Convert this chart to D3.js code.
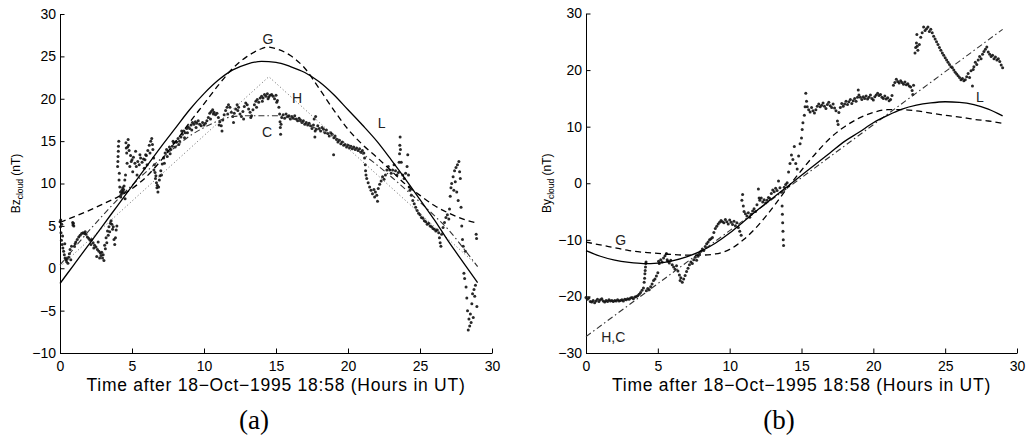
<!DOCTYPE html>
<html>
<head>
<meta charset="utf-8">
<script src="https://cdn.jsdelivr.net/npm/d3@7/dist/d3.min.js"></script>
<style>
  body { margin: 0; background: #fff; }
  svg { display: block; font-family: "Liberation Sans", Arial, sans-serif; }
  .domain { stroke: #000; }
  .tick line { stroke: #000; }
</style>
</head>
<body>
<svg id="fig" width="1028" height="438"></svg>
<script>
//	tick values
var hourTicks = [0, 5, 10, 15, 20, 25, 30];
var bzTicks = [-10, -5, 0, 5, 10, 15, 20, 25, 30];
var byTicks = [-30, -20, -10, 0, 10, 20, 30];

//	observed Bz (hours, nT)
var bzObs = [[0,5.5],[0.03,4.9],[0.05,5.7],[0.07,4.2],[0.1,3.3],[0.12,5.2],[0.15,2.8],[0.18,3.8],[0.2,2.4],[0.25,2.0],[0.3,1.6],[0.33,2.9],[0.35,1.2],[0.4,1.0],[0.45,0.8],[0.5,1.1],[0.55,0.6],[0.6,1.3],[0.65,1.7],[0.7,2.2],[0.75,1.0],[0.8,2.6],[0.88,5.4],[0.9,5.1],[0.93,5.3],[0.96,5.0],[1.0,2.6],[1.05,2.9],[1.1,3.1],[1.2,3.4],[1.3,3.7],[1.4,3.9],[1.5,4.1],[1.6,4.2],[1.7,4.1],[1.75,4.3],[1.8,4.0],[1.9,3.7],[2.0,3.5],[2.1,3.3],[2.15,2.8],[2.2,3.4],[2.3,3.0],[2.35,2.4],[2.4,2.7],[2.5,2.5],[2.55,1.4],[2.6,2.2],[2.65,3.1],[2.7,2.0],[2.75,1.2],[2.8,1.8],[2.85,1.5],[2.9,1.9],[2.95,1.2],[3.0,1.6],[3.05,0.9],[3.1,2.7],[3.15,2.3],[3.2,3.6],[3.25,3.0],[3.3,4.4],[3.35,3.9],[3.4,4.9],[3.45,4.3],[3.5,5.3],[3.55,5.6],[3.6,5.2],[3.65,4.6],[3.7,4.9],[3.75,3.4],[3.8,2.8],[3.85,3.6],[3.9,4.5],[3.95,5.0],
  [4.0,12.0],[4.02,12.6],[4.03,13.2],[4.05,13.8],[4.06,14.4],[4.08,15.0],[4.1,10.4],[4.12,11.2],[4.15,9.6],[4.2,9.0],[4.22,8.4],[4.25,8.7],[4.3,9.2],[4.33,8.9],[4.35,9.5],[4.4,9.0],[4.42,9.3],[4.45,9.7],[4.5,10.4],[4.52,8.2],[4.55,11.0],[4.58,14.8],[4.6,14.2],[4.63,13.6],[4.66,12.4],[4.7,14.3],[4.73,15.2],[4.76,14.5],[4.8,13.9],[4.85,12.0],[4.9,13.3],[4.95,12.6],[5.0,12.8],[5.05,11.4],[5.1,13.1],[5.2,12.4],[5.25,13.8],[5.3,12.0],[5.35,11.0],[5.4,12.6],[5.5,12.2],[5.55,13.4],[5.6,13.0],[5.7,12.5],[5.8,12.9],[5.85,11.8],[5.9,12.8],[5.95,13.4],[6.0,13.3],[6.05,12.2],[6.1,13.9],[6.2,14.5],[6.25,13.6],[6.3,15.0],[6.37,15.3],[6.42,14.6],[6.45,14.0],[6.5,13.0],[6.52,11.6],[6.55,12.2],[6.6,11.3],[6.63,10.6],[6.66,10.9],[6.7,10.1],[6.73,9.5],[6.76,9.8],[6.8,9.0],[6.85,9.6],[6.9,10.4],[6.95,10.9],[7.0,11.5],[7.05,11.0],[7.1,12.3],[7.2,13.0],[7.25,12.4],[7.3,13.6],[7.4,14.0],[7.45,13.2],[7.5,13.8],[7.6,14.3],[7.65,13.5],[7.7,14.0],[7.8,14.4],[7.85,15.0],[7.9,14.8],[8.0,14.3],[8.05,14.9],[8.1,14.9],[8.2,15.3],[8.25,14.6],[8.3,15.0],[8.4,15.5],[8.45,16.2],[8.5,15.8],[8.6,16.2],[8.65,15.4],[8.7,16.0],[8.8,16.5],[8.85,16.0],[8.9,16.7],[9.0,16.5],[9.1,16.9],[9.15,16.3],[9.2,17.2],[9.3,17.0],[9.4,17.3],[9.45,16.6],[9.5,17.1],[9.6,17.4],[9.7,17.0],[9.8,16.8],[9.9,17.2],
  [10.0,16.9],[10.1,17.1],[10.2,17.4],[10.3,17.8],[10.4,18.3],[10.45,17.6],[10.5,18.5],[10.6,18.7],[10.65,18.2],[10.7,18.4],[10.8,18.1],[10.9,18.3],[11.0,17.8],[11.05,16.9],[11.1,17.3],[11.2,16.8],[11.25,16.2],[11.3,17.5],[11.4,18.1],[11.5,18.6],[11.6,19.0],[11.65,18.2],[11.7,19.3],[11.8,19.0],[11.9,18.4],[12.0,17.9],[12.05,17.2],[12.1,18.3],[12.2,18.8],[12.3,19.3],[12.35,18.6],[12.4,19.0],[12.5,18.2],[12.6,17.9],[12.7,18.5],[12.75,17.6],[12.8,19.1],[12.9,19.5],[13.0,19.3],[13.1,18.8],[13.2,18.4],[13.25,17.8],[13.3,18.0],[13.4,18.7],[13.5,19.3],[13.6,19.7],[13.65,19.0],[13.7,19.9],[13.8,19.6],[13.9,20.1],[14.0,20.3],[14.05,19.7],[14.1,20.1],[14.2,20.5],[14.3,20.3],[14.4,20.6],[14.45,20.0],[14.5,20.2],[14.6,20.4],[14.7,20.5],[14.8,20.3],[14.9,20.0],[15.0,20.4],[15.05,19.6],[15.1,19.8],[15.2,19.0],[15.25,18.2],[15.28,17.3],[15.3,16.6],[15.32,15.8],[15.35,17.0],[15.4,17.8],[15.5,18.1],[15.6,17.7],[15.7,18.2],[15.8,17.9],[15.9,18.0],[16.0,17.6],[16.1,17.9],[16.2,17.7],[16.3,18.0],[16.4,17.6],[16.5,17.4],[16.6,17.7],[16.7,17.5],[16.8,17.2],[16.9,17.4],[17.0,17.0],[17.1,17.2],[17.2,16.9],[17.3,17.1],[17.4,16.8],[17.5,16.5],[17.6,16.9],[17.65,17.6],[17.7,15.5],[17.72,16.2],[17.75,17.9],[17.8,16.4],[17.9,16.8],[18.0,16.5],[18.1,16.2],[18.2,16.6],[18.3,16.4],[18.4,16.0],[18.5,16.3],[18.6,15.9],[18.7,15.6],[18.8,16.0],[18.9,15.8],[19.0,13.4],[19.02,15.4],[19.1,15.6],[19.2,15.2],[19.3,14.9],[19.4,15.1],[19.5,14.7],[19.6,14.9],[19.7,14.5],[19.8,14.6],[19.9,14.3],
  [20.0,14.5],[20.1,14.2],[20.2,14.4],[20.3,14.1],[20.4,14.3],[20.5,14.0],[20.6,14.2],[20.7,13.9],[20.8,14.1],[20.9,13.7],[21.0,13.9],[21.1,13.6],[21.15,13.0],[21.2,12.2],[21.22,11.5],[21.25,11.0],[21.3,10.6],[21.4,10.1],[21.5,9.6],[21.6,9.2],[21.7,8.8],[21.8,9.3],[21.85,8.4],[21.9,9.0],[22.0,8.6],[22.05,7.9],[22.1,9.4],[22.2,9.9],[22.3,10.3],[22.4,10.8],[22.5,10.5],[22.6,11.0],[22.7,11.6],[22.8,12.0],[22.9,11.6],[23.0,11.2],[23.1,11.6],[23.2,12.2],[23.3,11.5],[23.4,11.0],[23.5,11.3],[23.55,12.5],[23.58,13.5],[23.6,14.5],[23.62,15.5],[23.64,14.0],[23.7,12.5],[23.8,11.0],[23.9,10.6],[24.0,11.2],[24.1,12.0],[24.15,13.4],[24.2,11.0],[24.25,9.6],[24.3,9.2],[24.4,8.6],[24.5,8.0],[24.6,7.6],[24.7,7.2],[24.8,6.8],[24.9,6.5],[25.0,6.3],[25.1,6.0],[25.2,5.9],[25.3,5.6],[25.4,5.5],[25.5,5.2],[25.6,5.3],[25.7,5.0],[25.8,4.9],[25.9,4.7],[26.0,4.6],[26.1,4.4],[26.2,4.5],[26.3,4.2],[26.35,3.6],[26.4,3.0],[26.45,2.6],[26.5,4.0],[26.6,4.8],[26.7,5.4],[26.8,6.0],[26.9,6.3],[27.0,5.8],[27.05,7.0],[27.1,8.5],[27.15,9.5],[27.2,10.0],[27.3,10.8],[27.35,9.2],[27.4,11.5],[27.45,10.2],[27.5,11.9],[27.55,9.0],[27.6,12.2],[27.65,8.0],[27.7,12.6],[27.75,11.4],[27.8,10.6],[27.85,7.2],[27.9,5.0],[27.95,3.4],[28.0,2.6],[28.05,-0.6],[28.1,-1.2],[28.15,2.0],[28.2,-2.2],[28.25,-3.5],[28.3,-5.0],[28.35,-7.3],[28.4,-6.0],[28.45,-6.8],[28.5,-5.4],[28.55,-6.4],[28.6,-4.2],[28.65,-3.0],[28.7,-5.8],[28.75,-2.5],[28.8,-3.3],[28.85,-2.0],[28.9,4.0],[28.93,3.5],[28.95,-4.5]];

//	model fits for Bz: L (solid), G (dashed), H (dotted), C (dash-dot)
var bzFitL = [[0,-1.8],[1,0.5],[2,2.8],[3,5.1],[4,7.4],[5,9.7],[6,12.0],[7,14.3],[8,16.5],[9,18.7],[10,20.6],[11,22.2],[12,23.4],[13,24.1],[14,24.4],[15,24.3],[16,23.8],[17,23.1],[18,22.0],[19,20.5],[20,18.7],[21,16.9],[22,15.0],[23,12.8],[24,10.5],[25,8.1],[26,5.7],[27,3.1],[28,0.7],[29,-1.7]];
var bzFitG = [[0,5.4],[1,6.1],[2,6.8],[3,7.6],[4,8.4],[5,9.4],[6,10.8],[7,12.7],[8,14.9],[9,17.2],[10,19.4],[11,21.6],[12,23.6],[13,25.0],[14,25.9],[14.4,26.1],[15,25.9],[16,25.1],[17,23.6],[18,21.2],[19,18.7],[20,16.4],[21,14.6],[22,13.1],[23,11.5],[24,9.9],[25,8.6],[26,7.4],[27,6.5],[28,5.8],[29,5.3]];
var bzFitH = [[0,0.2],[14.5,22.6],[29,0.3]];
var bzFitC = [[0,0.4],[1,2.4],[2,4.4],[3,6.3],[4,8.1],[5,9.8],[6,11.4],[7,12.9],[8,14.3],[9,15.6],[10,16.6],[11,17.4],[12,17.9],[13,18.0],[14,18.0],[15,18.0],[16,17.7],[17,17.1],[18,16.3],[19,15.5],[20,14.6],[21,13.5],[22,12.2],[23,10.8],[24,9.3],[25,7.8],[26,6.2],[27,4.5],[28,2.4],[29,0.2]];
var bzLabels = [["G",14.44,27.05],["H",16.46,20.1],["C",14.38,16.1],["L",22.34,17.1]];

//	observed By (hours, nT)
var byObs = [[0,-20.2],[0.1,-20.5],[0.2,-20.3],[0.3,-20.9],[0.4,-21.0],[0.5,-20.7],[0.6,-21.1],[0.7,-20.8],[0.8,-20.5],[0.9,-20.9],[1.0,-20.6],[1.1,-20.4],[1.2,-20.8],[1.3,-21.0],[1.4,-20.7],[1.5,-20.9],[1.6,-20.6],[1.7,-20.8],[1.8,-20.7],[1.9,-20.9],[2.0,-20.7],[2.1,-20.8],[2.2,-20.6],[2.3,-20.8],[2.4,-20.7],[2.5,-20.6],[2.6,-20.8],[2.7,-20.5],[2.8,-20.6],[2.9,-20.4],[3.0,-20.5],[3.1,-20.3],[3.2,-20.2],[3.3,-20.4],[3.4,-20.1],[3.5,-20.0],[3.6,-19.9],[3.7,-19.6],[3.8,-19.3],[3.9,-18.9],[4.0,-18.5],
  [4.05,-17.5],[4.08,-16.8],[4.1,-16.0],[4.12,-15.4],[4.14,-14.8],[4.16,-14.2],[4.18,-13.9],[4.2,-19.0],[4.3,-18.6],[4.4,-18.8],[4.5,-18.3],[4.6,-17.8],[4.7,-17.2],[4.8,-16.9],[4.9,-16.4],[5.0,-15.8],[5.05,-13.8],[5.1,-14.2],[5.2,-13.5],[5.3,-13.9],[5.4,-13.2],[5.5,-12.8],[5.6,-12.4],[5.65,-13.5],[5.7,-13.8],[5.8,-14.1],[5.9,-13.6],[6.0,-14.4],[6.1,-14.8],[6.2,-15.2],[6.3,-14.6],[6.4,-15.5],[6.5,-16.2],[6.55,-17.2],[6.6,-16.7],[6.7,-17.5],[6.8,-16.9],[6.9,-16.3],[7.0,-15.6],[7.1,-15.0],[7.2,-14.4],[7.3,-13.9],[7.4,-14.2],[7.5,-13.5],[7.6,-13.1],[7.7,-13.6],[7.8,-12.9],[7.9,-12.4],[8.0,-12.0],[8.1,-11.6],[8.2,-11.9],[8.3,-11.2],[8.4,-10.7],[8.5,-10.4],[8.6,-10.0],[8.7,-9.8],[8.8,-9.6],[8.9,-8.7],[9.0,-8.0],[9.1,-7.6],[9.2,-7.2],[9.3,-6.9],[9.4,-6.6],[9.5,-6.8],[9.6,-7.0],[9.7,-6.4],[9.8,-6.8],[9.9,-7.2],
  [10.0,-6.5],[10.1,-6.9],[10.2,-7.3],[10.3,-6.7],[10.4,-7.5],[10.5,-7.0],[10.6,-7.8],[10.7,-8.5],[10.8,-9.2],[10.85,-3.0],[10.9,-2.0],[10.95,-4.0],[11.0,-5.0],[11.1,-5.4],[11.2,-5.8],[11.3,-5.2],[11.4,-6.0],[11.5,-5.5],[11.6,-4.9],[11.7,-4.5],[11.8,-5.0],[11.9,-3.8],[12.0,-1.0],[12.05,-2.6],[12.1,-3.0],[12.2,-2.6],[12.3,-3.3],[12.4,-2.9],[12.5,-3.5],[12.6,-3.0],[12.7,-2.5],[12.8,-2.7],[12.9,-1.8],[13.0,-1.2],[13.1,-1.5],[13.2,-0.9],[13.3,-1.3],[13.4,0.4],[13.5,-0.8],[13.6,-1.6],[13.65,-4.0],[13.67,-5.5],[13.69,-7.0],[13.71,-8.5],[13.73,-10.0],[13.75,-11.0],[13.8,-0.7],[13.9,-0.2],[14.0,0.1],[14.1,2.0],[14.2,3.5],[14.3,5.0],[14.4,4.2],[14.5,6.5],[14.6,3.5],[14.7,2.5],[14.8,4.8],[14.9,7.0],[15.0,8.0],[15.05,9.5],[15.1,10.7],[15.2,12.0],[15.25,13.5],[15.3,15.9],[15.35,14.5],[15.4,13.5],[15.5,13.0],[15.6,12.6],[15.7,13.4],[15.8,12.8],[15.9,12.4],[16.0,13.0],[16.1,13.6],[16.2,14.0],[16.3,13.5],[16.4,13.8],[16.5,14.2],[16.6,13.6],[16.7,13.2],[16.8,13.9],[16.9,14.3],[17.0,13.7],[17.1,13.4],[17.2,14.0],[17.3,13.3],[17.4,12.8],[17.5,11.0],[17.55,10.4],[17.6,12.5],[17.7,13.4],[17.8,14.1],[17.9,13.6],[18.0,14.0],[18.1,14.5],[18.2,13.9],[18.3,14.4],[18.4,14.8],[18.5,14.1],[18.6,14.6],[18.7,15.0],[18.8,14.5],[18.9,15.2],[18.95,16.5],[19.0,15.6],[19.1,15.2],[19.2,14.8],[19.3,15.3],[19.4,15.0],[19.5,15.4],[19.6,14.9],[19.7,15.2],[19.8,15.6],[19.9,15.0],
  [20.0,14.7],[20.1,15.3],[20.2,15.6],[20.3,15.9],[20.4,15.5],[20.5,15.7],[20.6,15.2],[20.7,15.0],[20.8,15.4],[20.9,14.9],[21.0,15.1],[21.1,14.6],[21.2,14.8],[21.3,15.5],[21.4,17.3],[21.5,17.8],[21.6,18.4],[21.7,18.0],[21.8,17.7],[21.9,18.1],[22.0,17.8],[22.1,17.5],[22.2,17.9],[22.3,17.4],[22.4,17.6],[22.5,17.2],[22.6,17.0],[22.7,16.4],[22.75,15.7],[22.8,17.3],[22.9,23.0],[22.95,24.0],[23.0,24.8],[23.03,26.3],[23.05,24.2],[23.1,23.5],[23.2,24.5],[23.3,25.8],[23.4,26.6],[23.5,27.6],[23.6,27.0],[23.7,27.3],[23.8,27.6],[23.9,26.8],[24.0,27.2],[24.1,26.6],[24.2,26.0],[24.3,25.5],[24.4,25.0],[24.5,24.5],[24.6,24.0],[24.7,23.5],[24.8,23.0],[24.9,22.6],[25.0,22.2],[25.1,21.8],[25.2,21.4],[25.3,21.0],[25.4,20.6],[25.5,20.4],[25.6,20.0],[25.7,19.6],[25.8,19.3],[25.9,19.0],[26.0,18.7],[26.1,18.3],[26.2,18.5],[26.3,18.1],[26.4,18.3],[26.5,18.8],[26.6,19.4],[26.7,18.7],[26.8,19.9],[26.9,17.2],[26.95,20.1],[27.0,20.6],[27.1,21.4],[27.2,21.0],[27.3,21.8],[27.4,22.4],[27.5,22.0],[27.6,22.8],[27.7,23.3],[27.8,23.7],[27.9,24.1],[28.0,23.2],[28.1,22.8],[28.2,22.4],[28.3,22.6],[28.4,22.0],[28.5,22.3],[28.6,21.8],[28.7,22.0],[28.8,21.5],[28.9,20.9],[29.0,20.4]];

//	model fits for By: L (solid), G (dashed), H and C coincide (dash-dot)
var byFitL = [[0,-11.9],[1,-12.9],[2,-13.6],[3,-14.0],[4,-14.2],[5,-14.1],[6,-13.7],[7,-13.0],[8,-12.0],[9,-10.6],[10,-8.8],[11,-6.7],[12,-4.6],[13,-2.6],[14,-0.6],[15,1.4],[16,3.4],[17,5.4],[18,7.4],[19,9.0],[20,10.7],[21,12.0],[22,13.1],[23,13.8],[24,14.2],[25,14.4],[26,14.3],[27,13.9],[28,13.1],[29,11.9]];
var byFitG = [[0,-10.4],[1,-10.9],[2,-11.4],[3,-11.9],[4,-12.2],[5,-12.4],[6,-12.6],[7,-12.7],[8,-12.7],[9,-12.5],[10,-11.7],[11,-9.9],[12,-7.4],[13,-4.3],[14,-0.9],[15,2.3],[16,5.3],[17,8.0],[18,10.0],[19,11.5],[20,12.5],[21,13.0],[22,13.0],[23,12.8],[24,12.4],[25,12.0],[26,11.7],[27,11.3],[28,11.0],[29,10.6]];
var byFitHC = [[0,-27.1],[29,27.2]];
var byLabels = [["G",2.41,-10.1],["H,C",1.9,-27.2],["L",27.42,15.2]];

var svg = d3.select("#fig");

//	line styles per fit
var styles = {
	solid:   {stroke: "#000", width: 1.3, dash: null},
	dashed:  {stroke: "#000", width: 1.3, dash: "6,4"},
	dotted:  {stroke: "#666", width: 1, dash: "1,2.5"},
	dashdot: {stroke: "#333", width: 1.1, dash: "6,3,1.5,3"}
};

function panel(cfg) {
	var x = d3.scaleLinear().domain([0, 30]).range(cfg.xRange),
	    y = d3.scaleLinear().domain(cfg.yDomain).range(cfg.yRange);
	var g = svg.append("g");

	// axes, matlab style: ticks pointing inward, no box
	g.append("g")
		.attr("transform", "translate(0," + cfg.yRange[0] + ")")
		.call(d3.axisBottom(x).tickValues(hourTicks).tickSizeInner(-4.5).tickSizeOuter(0).tickPadding(8.3))
		.call(styleAxis);
	g.append("g")
		.attr("transform", "translate(" + cfg.xRange[0] + ",0)")
		.call(d3.axisLeft(y).tickValues(cfg.yTicks).tickSizeInner(-4.5).tickSizeOuter(0).tickPadding(4)
			.tickFormat(function(d) { return d < 0 ? "\u2212" + Math.abs(d) : d; }))
		.call(styleAxis);

	// observations as small dark dots
	g.append("g").selectAll("circle")
		.data(cfg.obs)
		.enter().append("circle")
		.attr("cx", function(d) { return x(d[0]); })
		.attr("cy", function(d) { return y(d[1]); })
		.attr("r", 1.5)
		.attr("fill", "#111")
		.attr("fill-opacity", 0.9);

	// fitted curves
	cfg.fits.forEach(function(f) {
		var st = styles[f.style];
		var line = d3.line()
			.x(function(d) { return x(d[0]); })
			.y(function(d) { return y(d[1]); })
			.curve(f.data.length > 2 && f.style != "dotted" ? d3.curveMonotoneX : d3.curveLinear);
		g.append("path")
			.datum(f.data)
			.attr("d", line)
			.attr("fill", "none")
			.attr("stroke", st.stroke)
			.attr("stroke-width", st.width)
			.attr("stroke-dasharray", st.dash);
	});

	// curve labels
	g.append("g").selectAll("text")
		.data(cfg.labels)
		.enter().append("text")
		.attr("x", function(d) { return x(d[1]); })
		.attr("y", function(d) { return y(d[2]); })
		.attr("dy", "0.36em")
		.attr("text-anchor", "middle")
		.attr("font-size", 14)
		.attr("fill", "#222")
		.text(function(d) { return d[0]; });

	// x label (kept a touch lower so it clears the tick labels)
	g.append("text")
		.attr("x", (cfg.xRange[0] + cfg.xRange[1]) / 2)
		.attr("y", 391)
		.attr("text-anchor", "middle")
		.attr("font-size", 17.5)
		.attr("letter-spacing", 0.75)
		.text("Time after 18\u2212Oct\u22121995 18:58 (Hours in UT)");

	// y label with subscript
	var yl = g.append("text")
		.attr("transform", "translate(" + cfg.yLabelX + "," + ((cfg.yRange[0] + cfg.yRange[1]) / 2) + ") rotate(-90)")
		.attr("text-anchor", "middle")
		.attr("font-size", 12);
	yl.append("tspan").text(cfg.yName);
	yl.append("tspan").attr("font-size", 8.5).attr("dy", 3).text("cloud");
	yl.append("tspan").attr("dy", -3).text(" (nT)");

	// panel letter
	svg.append("text")
		.attr("x", cfg.letterX)
		.attr("y", 429)
		.attr("text-anchor", "middle")
		.attr("font-family", "'Liberation Serif', serif")
		.attr("font-size", 27)
		.text(cfg.letter);
}

function styleAxis(sel) {
	sel.selectAll("text").attr("font-size", 14).attr("fill", "#000")
		.attr("font-family", "'Liberation Sans', Arial, sans-serif");
	sel.select(".domain").attr("stroke-width", 1);
}

panel({
	xRange: [60, 492], yDomain: [-10, 30], yRange: [353, 14], yTicks: bzTicks,
	obs: bzObs,
	fits: [{data: bzFitH, style: "dotted"}, {data: bzFitC, style: "dashdot"},
	       {data: bzFitG, style: "dashed"}, {data: bzFitL, style: "solid"}],
	labels: bzLabels, yName: "Bz", yLabelX: 20, letter: "(a)", letterX: 254
});

panel({
	xRange: [586, 1017], yDomain: [-30, 30], yRange: [353, 13.5], yTicks: byTicks,
	obs: byObs,
	fits: [{data: byFitHC, style: "dashdot"}, {data: byFitG, style: "dashed"}, {data: byFitL, style: "solid"}],
	labels: byLabels, yName: "By", yLabelX: 551, letter: "(b)", letterX: 779
});
</script>
</body>
</html>
